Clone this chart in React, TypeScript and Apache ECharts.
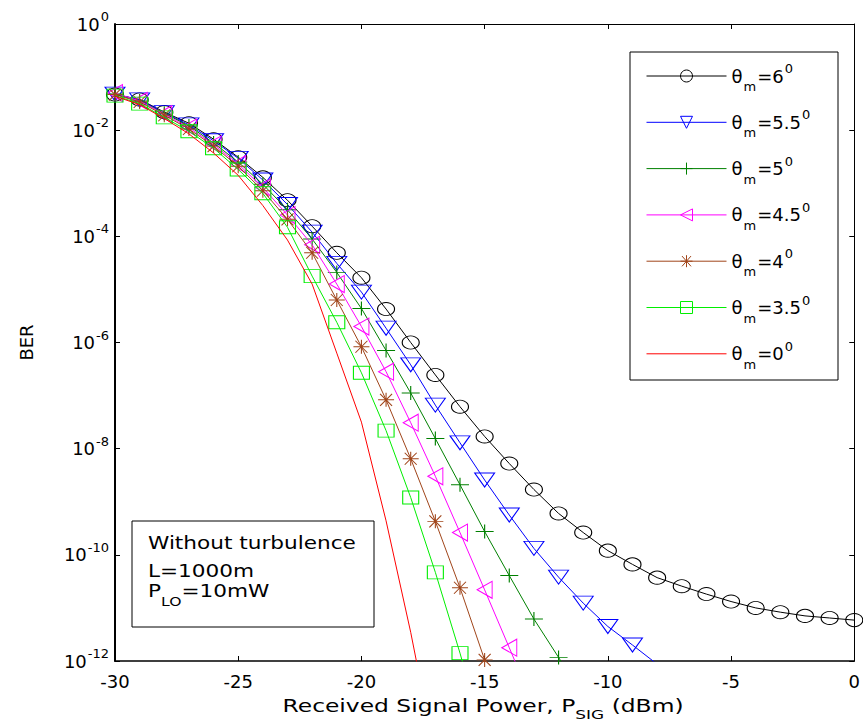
import React, { useEffect, useRef } from "react";
import * as echarts from "echarts";

// Received signal power (dBm)
const xValues = [-30, -29, -28, -27, -26, -25, -24, -23, -22, -21, -20, -19, -18, -17, -16, -15, -14, -13, -12, -11, -10, -9, -8, -7, -6, -5, -4, -3, -2, -1, 0];

// BER values (one per dBm step starting at -30)
const berTheta6 = [4.68e-2, 3.8e-2, 2.19e-2, 1.35e-2, 6.76e-3, 3.09e-3, 1.29e-3, 4.79e-4, 1.55e-4, 4.9e-5, 1.66e-5, 4.27e-6, 1.0e-6, 2.45e-7, 6.17e-8, 1.7e-8, 5.25e-9, 1.7e-9, 6.03e-10, 2.63e-10, 1.2e-10, 6.61e-11, 3.72e-11, 2.57e-11, 1.82e-11, 1.32e-11, 1.0e-11, 8.32e-12, 7.08e-12, 6.46e-12, 5.89e-12];
const berTheta55 = [4.79e-2, 3.72e-2, 2.14e-2, 1.26e-2, 6.31e-3, 2.95e-3, 1.15e-3, 3.98e-4, 1.2e-4, 3.09e-5, 8.91e-6, 1.86e-6, 3.8e-7, 6.61e-8, 1.29e-8, 2.57e-9, 5.62e-10, 1.32e-10, 3.8e-11, 1.23e-11, 4.47e-12, 2.0e-12, 8.71e-13];
const berTheta5 = [4.79e-2, 3.55e-2, 2.09e-2, 1.2e-2, 5.75e-3, 2.51e-3, 9.55e-4, 3.16e-4, 8.91e-5, 2.09e-5, 4.37e-6, 7.08e-7, 1.12e-7, 1.55e-8, 2.09e-9, 2.75e-10, 4.07e-11, 6.17e-12, 1.17e-12, 2.0e-13];
const berTheta45 = [5.01e-2, 3.55e-2, 2.0e-2, 1.12e-2, 5.37e-3, 2.29e-3, 8.32e-4, 2.51e-4, 6.92e-5, 1.26e-5, 2.0e-6, 2.82e-7, 3.09e-8, 3.02e-9, 2.63e-10, 2.19e-11, 1.78e-12, 1.41e-13];
const berTheta4 = [4.68e-2, 3.39e-2, 1.91e-2, 1.05e-2, 5.01e-3, 2.09e-3, 7.24e-4, 2.09e-4, 4.9e-5, 6.31e-6, 8.32e-7, 8.32e-8, 6.46e-9, 4.27e-10, 2.4e-11, 1.05e-12, 5.0e-14];
const berTheta35 = [4.47e-2, 3.16e-2, 1.74e-2, 9.55e-3, 4.57e-3, 1.82e-3, 6.46e-4, 1.48e-4, 1.78e-5, 2.4e-6, 2.69e-7, 2.19e-8, 1.2e-9, 4.68e-11, 1.41e-12, 3.16e-14];
const berTheta0 = [4.37e-2, 3.02e-2, 1.66e-2, 8.51e-3, 3.72e-3, 1.41e-3, 3.8e-4, 8.51e-5, 1.26e-5, 6.31e-7, 3.16e-8, 4.37e-10, 3.47e-12, 1.58e-14];

const thetaLabels = ["6", "5.5", "5", "4.5", "4", "3.5", "0"];
const yTickValues = [1e-12, 1e-10, 1e-8, 1e-6, 1e-4, 1e-2, 1];
const noteLines = ["Without turbulence", "L=1000m"];

const FONT = "DejaVu Sans";

const SYM_TRI_DOWN = "path://M0,0L20,0L10,14Z";
const SYM_TRI_LEFT = "path://M0,8L15,0L15,16Z";
const SYM_PLUS = "path://M0,7L18,7M9,0L9,14";
const SYM_STAR = "path://M0,7L16,7M8,0L8,14M2,1L14,13M2,13L14,1";

const seriesDefs = [
  { data: berTheta6, color: "#000000", symbol: "circle", size: [17, 13] },
  { data: berTheta55, color: "#0000ff", symbol: SYM_TRI_DOWN, size: [20, 14] },
  { data: berTheta5, color: "#008000", symbol: SYM_PLUS, size: [18, 14] },
  { data: berTheta45, color: "#ff00ff", symbol: SYM_TRI_LEFT, size: [15, 17] },
  { data: berTheta4, color: "#a0451a", symbol: SYM_STAR, size: [16, 14] },
  { data: berTheta35, color: "#00ee00", symbol: "rect", size: [16, 13] },
  { data: berTheta0, color: "#ff0000", symbol: "none", size: [1, 1] },
];

export default function App() {
  const ref = useRef<HTMLDivElement>(null);

  useEffect(() => {
    if (!ref.current) return;
    const chart = echarts.init(ref.current, undefined, { renderer: "svg" });

    const series = seriesDefs.map((d, k) => ({
      type: "line",
      name: thetaLabels[k],
      data: d.data.map((v, i) => [xValues[i], v]),
      symbol: d.symbol,
      symbolSize: d.size,
      showSymbol: d.symbol !== "none",
      lineStyle: { color: d.color, width: 1 },
      itemStyle: { color: "transparent", borderColor: d.color, borderWidth: 1 },
      clip: true,
      silent: true,
      emphasis: { disabled: true },
      z: 2 + k * 0.01,
    }));

    const tickStyle = { show: true, inside: true, length: 5, lineStyle: { color: "#000", width: 1 } };

    const legendData = thetaLabels.map((n, k) =>
      seriesDefs[k].symbol === "none"
        ? { name: n, itemStyle: { opacity: 0, color: "transparent", borderColor: "transparent", borderWidth: 0 } }
        : { name: n }
    );

    chart.setOption({
      animation: false,
      backgroundColor: "#ffffff",
      grid: { left: 115, right: 6, top: 24, bottom: 62, containLabel: false },
      xAxis: [
        {
          type: "value",
          min: -30,
          max: 0,
          interval: 5,
          position: "bottom",
          axisLine: { show: true, onZero: false, lineStyle: { color: "#000", width: 1.5 } },
          axisTick: tickStyle,
          splitLine: { show: false },
          axisLabel: { color: "#000", fontFamily: FONT, fontSize: 18, margin: 11 },
        },
        {
          type: "value",
          min: -30,
          max: 0,
          interval: 5,
          position: "top",
          axisLine: { show: true, onZero: false, lineStyle: { color: "#000", width: 1 } },
          axisTick: tickStyle,
          splitLine: { show: false },
          axisLabel: { show: false },
        },
      ],
      yAxis: [
        {
          type: "log",
          logBase: 10,
          min: 1e-12,
          max: 1,
          position: "left",
          axisLine: { show: true, onZero: false, lineStyle: { color: "#000", width: 2 } },
          axisTick: { ...tickStyle, customValues: yTickValues },
          splitLine: { show: false },
          minorTick: { show: false },
          axisLabel: {
            customValues: yTickValues,
            margin: 6,
            color: "#000",
            formatter: (v: number) => `{b|10}{sup|${Math.round(Math.log10(v))}}`,
            rich: {
              b: { fontFamily: FONT, fontSize: 18, color: "#000", verticalAlign: "top", padding: [5, 0, 5, 0] },
              sup: { fontFamily: FONT, fontSize: 13, color: "#000", verticalAlign: "top", padding: [0, 0, 0, 1] },
            },
          },
          name: "BER",
          nameLocation: "middle",
          nameGap: 80,
          nameTextStyle: { color: "#000", fontFamily: FONT, fontSize: 18 },
        },
        {
          type: "log",
          logBase: 10,
          min: 1e-12,
          max: 1,
          position: "right",
          axisLine: { show: true, onZero: false, lineStyle: { color: "#000", width: 1 } },
          axisTick: { ...tickStyle, customValues: yTickValues },
          splitLine: { show: false },
          minorTick: { show: false },
          axisLabel: { show: false },
        },
      ],
      legend: {
        orient: "vertical",
        left: 646,
        top: 62,
        padding: 0,
        itemGap: 15.3,
        itemWidth: 80,
        itemHeight: 15,
        selectedMode: false,
        data: legendData,
        lineStyle: { width: 1 },
        itemStyle: { borderWidth: 1 },
        formatter: (n: string) => `{n|θ}{sub|m}{n|=${n}}{sup|0}`,
        textStyle: {
          color: "#000",
          fontFamily: FONT,
          fontSize: 18,
          rich: {
            n: { fontFamily: FONT, fontSize: 18, color: "#000", verticalAlign: "top", padding: [8, 0, 0, 0] },
            sub: { fontFamily: FONT, fontSize: 13, color: "#000", verticalAlign: "top", padding: [21, 1, 0, 1] },
            sup: { fontFamily: FONT, fontSize: 13, color: "#000", verticalAlign: "top", padding: [3, 0, 0, 1] },
          },
        },
        z: 5,
      },
      graphic: [
        {
          type: "rect",
          z: 3,
          shape: { x: 630, y: 52, width: 208, height: 328 },
          style: { fill: "#ffffff", stroke: "#000", lineWidth: 1 },
        },
        {
          type: "rect",
          z: 3,
          shape: { x: 132, y: 521, width: 242, height: 106 },
          style: { fill: "#ffffff", stroke: "#000", lineWidth: 1 },
        },
        {
          type: "text",
          z: 4,
          x: 148,
          y: 543,
          scaleX: 1.2,
          style: { text: noteLines[0], fontFamily: FONT, fontSize: 18, fill: "#000", verticalAlign: "middle" },
        },
        {
          type: "text",
          z: 4,
          x: 148,
          y: 571,
          scaleX: 1.2,
          style: { text: noteLines[1], fontFamily: FONT, fontSize: 18, fill: "#000", verticalAlign: "middle" },
        },
        {
          type: "text",
          z: 4,
          x: 148,
          y: 582,
          scaleX: 1.2,
          style: {
            text: "{m|P}{s|LO}{m|=10mW}",
            fill: "#000",
            verticalAlign: "top",
            rich: {
              m: { fontFamily: FONT, fontSize: 18, fill: "#000", verticalAlign: "top", padding: [0, 0, 0, 0] },
              s: { fontFamily: FONT, fontSize: 13, fill: "#000", verticalAlign: "top", padding: [13, 0, 0, 0] },
            },
          },
        },
        {
          type: "text",
          z: 4,
          x: 483,
          y: 697,
          scaleX: 1.3,
          style: {
            text: "{m|Received Signal Power, P}{s|SIG}{m| (dBm)}",
            fill: "#000",
            align: "center",
            verticalAlign: "top",
            rich: {
              m: { fontFamily: FONT, fontSize: 18, fill: "#000", verticalAlign: "top", padding: [0, 0, 0, 0] },
              s: { fontFamily: FONT, fontSize: 13, fill: "#000", verticalAlign: "top", padding: [11, 0, 0, 0] },
            },
          },
        },
      ],
      series,
    });

    return () => chart.dispose();
  }, []);

  return (
    <div
      ref={ref}
      style={{ position: "absolute", left: 0, top: 0, width: 863, height: 723, background: "#fff" }}
    />
  );
}
